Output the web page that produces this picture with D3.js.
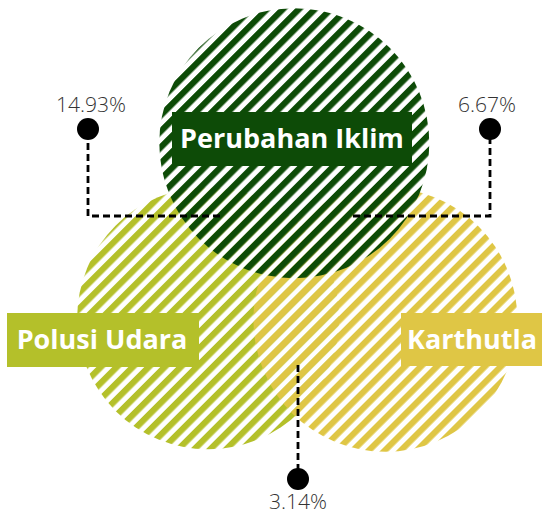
<!DOCTYPE html>
<html>
<head>
<meta charset="utf-8">
<script src="https://cdn.jsdelivr.net/npm/d3@7"></script>
<style>
  html, body { margin: 0; padding: 0; background: #fff; }
  svg { display: block; }
</style>
</head>
<body>
<svg id="chart" width="542" height="515"></svg>
<script>
// ---- data ----
const sets = ["Polusi Udara", "Karthutla", "Perubahan Iklim"];
const setColors = ["#b4c02a", "#dfc645", "#0d4b07"];
const intersections = ["Perubahan Iklim ∩ Polusi Udara", "Perubahan Iklim ∩ Karthutla", "Polusi Udara ∩ Karthutla"];
const intersectionValues = ["14.93%", "6.67%", "3.14%"];

// ---- layout ----
const W = 542, H = 515;
const svg = d3.select("#chart");
const x = d3.scaleLinear().domain([0, 1]).range([0, W]);
const y = d3.scaleLinear().domain([0, 1]).range([0, H]);

// circle layout (fractions of the canvas)
const circleLayout = [
  { cx: 0.384, cy: 0.618, r: 131 },
  { cx: 0.711, cy: 0.621, r: 132 },
  { cx: 0.543, cy: 0.278, r: 135 }
];

const defs = svg.append("defs");
sets.forEach((s, i) => {
  const p = defs.append("pattern")
    .attr("id", "stripe" + i)
    .attr("patternUnits", "userSpaceOnUse")
    .attr("width", 11.3).attr("height", 20)
    .attr("patternTransform", "rotate(45)");
  p.append("rect").attr("x", 0).attr("y", 0).attr("width", 6.2).attr("height", 20)
    .attr("fill", setColors[i]);
});

const circles = sets.map((s, i) => ({
  name: s, color: setColors[i],
  cx: x(circleLayout[i].cx), cy: y(circleLayout[i].cy), r: circleLayout[i].r
}));

svg.append("g").selectAll("circle").data(circles).join("circle")
  .attr("cx", d => d.cx).attr("cy", d => d.cy).attr("r", d => d.r)
  .attr("fill", (d, i) => `url(#stripe${i})`);

// ---- set labels ----
const labelBoxes = [
  { x: 7, y: 313, w: 192, h: 54, tx: 102, anchor: "middle" },
  { x: 401, y: 313, w: 145, h: 53, tx: 407, anchor: "start" },
  { x: 172, y: 112, w: 240, h: 54, tx: 292, anchor: "middle" }
];
const lg = svg.append("g");
circles.forEach((c, i) => {
  const b = labelBoxes[i];
  lg.append("rect").attr("x", b.x).attr("y", b.y).attr("width", b.w).attr("height", b.h)
    .attr("fill", c.color);
  lg.append("text").attr("x", b.tx).attr("y", b.y + 36)
    .attr("text-anchor", b.anchor)
    .attr("font-family", "'Open Sans', sans-serif").attr("font-weight", 700)
    .attr("font-size", 27).attr("fill", "#fff")
    .text(c.name);
});

// ---- intersection annotations ----
const annot = [
  { path: [[220, 216], [88, 216], [88, 129]], dot: [88, 129], text: [91, 112] },
  { path: [[353, 216], [490, 216], [490, 129]], dot: [490, 129], text: [487, 112] },
  { path: [[298, 365], [298, 479]], dot: [298, 479], text: [298, 509] }
];
const ag = svg.append("g");
const line = d3.line();
annot.forEach((a, i) => {
  ag.append("path").attr("d", line(a.path))
    .attr("fill", "none").attr("stroke", "#000").attr("stroke-width", 2.8)
    .attr("stroke-dasharray", "7,4");
  ag.append("circle").attr("cx", a.dot[0]).attr("cy", a.dot[1]).attr("r", 11).attr("fill", "#000");
  ag.append("text").attr("x", a.text[0]).attr("y", a.text[1])
    .attr("text-anchor", "middle")
    .attr("font-family", "'Open Sans', sans-serif").attr("font-weight", 300)
    .attr("font-size", 21).attr("fill", "#333")
    .text(intersectionValues[i]);
});
</script>
</body>
</html>
